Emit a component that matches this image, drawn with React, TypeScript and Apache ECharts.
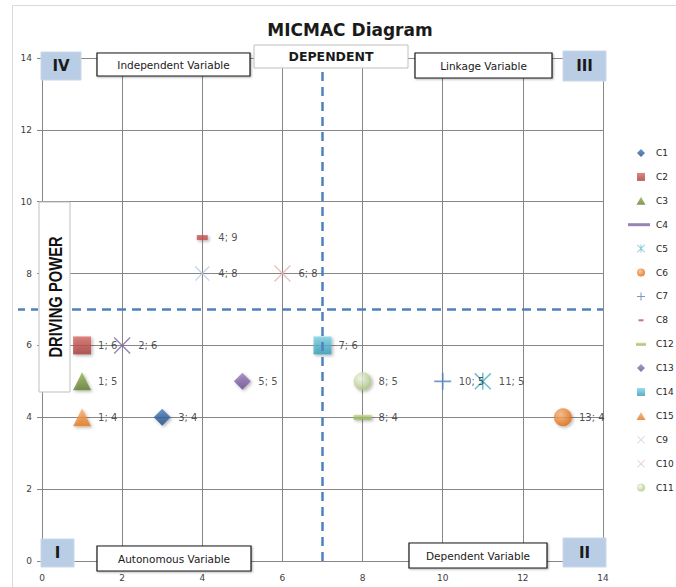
import React, { useEffect, useRef } from "react";
import * as echarts from "echarts";

// ---- data ----
const seriesNames = ["C1", "C2", "C3", "C4", "C5", "C6", "C7", "C8", "C12", "C13", "C14", "C15", "C9", "C10", "C11"];
const dependence = [3, 1, 1, 2, 11, 13, 10, 4, 8, 5, 7, 1, 4, 6, 8];
const drivingPower = [4, 6, 5, 6, 5, 4, 5, 9, 4, 5, 6, 4, 8, 8, 5];
const axisTicks = [0, 2, 4, 6, 8, 10, 12, 14];
const thresholdX = 7;
const thresholdY = 7;

// ---- symbols ----
const X_BODY = "M0,0.6L0.6,0L10,9.4L9.4,10ZM9.4,0L10,0.6L0.6,10L0,9.4Z";
const symX = "path://" + X_BODY;
const symAst = "path://" + X_BODY + "M4.55,0H5.45V10H4.55Z";
const symPlus = "path://M4.5,0H5.5V4.5H10V5.5H5.5V10H4.5V5.5H0V4.5H4.5Z";

// legend icons in a 26x9 box, centred at x=16
const pad = (b: string) => "path://M0,0M26,9" + b;
const lgDiamond = pad("M16,0.5L20,4.5L16,8.5L12,4.5Z");
const lgSquare = pad("M12,0.5H20V8.5H12Z");
const lgTriangle = pad("M16,0.5L20.5,8.5H11.5Z");
const lgBar = pad("M3,3H25V6H3Z");
const lgCircle = pad("M12,4.5A4,4 0 1 0 20,4.5A4,4 0 1 0 12,4.5Z");
const lgX = pad("M12,1L12.5,0.5L20,8L19.5,8.5ZM19.5,0.5L20,1L12.5,8.5L12,8Z");
const lgAst = pad("M12,1L12.5,0.5L20,8L19.5,8.5ZM19.5,0.5L20,1L12.5,8.5L12,8ZM15.6,0.5H16.4V8.5H15.6Z");
const lgPlus = pad("M15.5,0.5H16.5V4H20V5H16.5V8.5H15.5V5H12V4H15.5Z");
const lgDashS = pad("M13.5,3.5H18.5V5.5H13.5Z");
const lgDashL = pad("M11,3H21V6H11Z");

const lin = (a: string, b: string) => ({
  type: "linear", x: 0, y: 0, x2: 0, y2: 1,
  colorStops: [{ offset: 0, color: a }, { offset: 1, color: b }],
});
const rad = (a: string, b: string) => ({
  type: "radial", x: 0.38, y: 0.35, r: 0.7,
  colorStops: [{ offset: 0, color: a }, { offset: 1, color: b }],
});

type St = { symbol: string; size: number | number[]; color: any; icon: string; shadow?: boolean };
const styles: Record<string, St> = {
  C1: { symbol: "diamond", size: 17, color: lin("#4a7cbf", "#1f4a80"), icon: lgDiamond, shadow: true },
  C2: { symbol: "rect", size: 18, color: lin("#d66a66", "#a33a37"), icon: lgSquare, shadow: true },
  C3: { symbol: "triangle", size: 18, color: lin("#93b457", "#5f7a2c"), icon: lgTriangle, shadow: true },
  C4: { symbol: symX, size: 17, color: "#8064a2", icon: lgBar },
  C5: { symbol: symAst, size: 17, color: "#4bacc6", icon: lgAst },
  C6: { symbol: "circle", size: 18, color: rad("#fbb77c", "#d9650a"), icon: lgCircle, shadow: true },
  C7: { symbol: symPlus, size: 17, color: "#4f81bd", icon: lgPlus },
  C8: { symbol: "rect", size: [11, 5], color: "#c0504d", icon: lgDashS, shadow: true },
  C12: { symbol: "rect", size: [18, 5], color: lin("#c0d88a", "#8fae4c"), icon: lgDashL, shadow: true },
  C13: { symbol: "diamond", size: 17, color: lin("#9a7dbf", "#664a8a"), icon: lgDiamond, shadow: true },
  C14: { symbol: "rect", size: 18, color: lin("#7fd3e6", "#2f9bb5"), icon: lgSquare, shadow: true },
  C15: { symbol: "triangle", size: 18, color: lin("#fbae6c", "#e0751a"), icon: lgTriangle, shadow: true },
  C9: { symbol: symX, size: 15, color: "#b4c8e2", icon: lgX },
  C10: { symbol: symX, size: 17, color: "#e6b3b2", icon: lgX },
  C11: { symbol: "circle", size: 18, color: rad("#f4f8ec", "#a6c176"), icon: lgCircle, shadow: true },
};

const FONT = "DejaVu Sans";
const DASH_COLOR = "#4f81bd";

function labelBox(id: string, x: number, y: number, w: number, h: number, text: string, kind: string) {
  let rectStyle: any;
  let font: string;
  if (kind === "quad") {
    rectStyle = { fill: "#b9cde5", stroke: "#c9d8ea", lineWidth: 1 };
    font = `bold 15px ${FONT}`;
  } else if (kind === "black") {
    rectStyle = { fill: "#ffffff", stroke: "#1a1a1a", lineWidth: 1.2, shadowBlur: 2, shadowOffsetX: 1, shadowOffsetY: 1, shadowColor: "rgba(0,0,0,0.3)" };
    font = `10.5px ${FONT}`;
  } else {
    rectStyle = { fill: "#ffffff", stroke: "#bfbfbf", lineWidth: 1 };
    font = `bold 12.5px ${FONT}`;
  }
  return {
    id,
    type: "group",
    z: 100,
    children: [
      { type: "rect", shape: { x, y, width: w, height: h }, style: rectStyle, z: 100 },
      {
        type: "text", x: x + w / 2, y: y + h / 2, z: 101,
        style: { text, font, fill: "#1a1a1a", align: "center", verticalAlign: "middle" },
      },
    ],
  };
}

export default function App() {
  const ref = useRef<HTMLDivElement>(null);
  useEffect(() => {
    document.body.style.margin = "0";
    if (!ref.current) return;
    const chart = echarts.init(ref.current, undefined, { renderer: "svg" });

    const series: any[] = seriesNames.map((name, i) => {
      const st = styles[name];
      const w = Array.isArray(st.size) ? st.size[0] : st.size;
      const s: any = {
        name,
        type: "scatter",
        data: [[dependence[i], drivingPower[i]]],
        symbol: st.symbol,
        symbolSize: st.size,
        itemStyle: st.shadow
          ? { color: st.color, shadowBlur: 3, shadowOffsetX: 1.5, shadowOffsetY: 1.5, shadowColor: "rgba(0,0,0,0.35)" }
          : { color: st.color },
        label: {
          show: true,
          position: "right",
          distance: 16 - w / 2,
          formatter: (p: any) => `${p.value[0]}; ${p.value[1]}`,
          fontSize: 10,
          fontFamily: FONT,
          color: "#262626",
        },
        emphasis: { disabled: true },
      };
      if (i === 0) {
        s.markLine = {
          silent: true,
          symbol: "none",
          label: { show: false },
          lineStyle: { color: DASH_COLOR, width: 2.5, type: [9, 6] },
          emphasis: { disabled: true },
          data: [{ xAxis: thresholdX }, { yAxis: thresholdY }],
        };
      }
      return s;
    });

    const axisCommon = {
      type: "value",
      min: axisTicks[0],
      max: axisTicks[axisTicks.length - 1],
      interval: axisTicks[1] - axisTicks[0],
      axisLine: { show: true, lineStyle: { color: "#878787", width: 1 } },
      splitLine: { show: true, lineStyle: { color: "#878787", width: 1 } },
      axisLabel: { fontSize: 9, fontFamily: FONT, color: "#404040" },
    };

    const graphics: any[] = [
      { id: "frame", type: "rect", shape: { x: 12.5, y: 5.5, width: 700, height: 700 }, style: { fill: "none", stroke: "#d9d9d9", lineWidth: 1 }, z: 0 },
      labelBox("q4", 41, 52, 40, 28, "IV", "quad"),
      labelBox("indep", 97, 53, 153, 23, "Independent Variable", "black"),
      labelBox("dep", 254, 45, 154, 23, "DEPENDENT", "gray"),
      labelBox("link", 415, 53, 137, 25, "Linkage Variable", "black"),
      labelBox("q3", 563, 51, 43, 30, "III", "quad"),
      labelBox("q1", 41, 539, 33, 28, "I", "quad"),
      labelBox("auto", 97, 546, 154, 25, "Autonomous Variable", "black"),
      labelBox("depv", 409, 543, 138, 25, "Dependent Variable", "black"),
      labelBox("q2", 563, 538, 43, 29, "II", "quad"),
      {
        id: "driving",
        type: "group",
        z: 100,
        children: [
          { type: "rect", z: 100, shape: { x: 39, y: 202, width: 31, height: 190 }, style: { fill: "#ffffff", stroke: "#bfbfbf", lineWidth: 1 } },
          {
            type: "text", z: 101, x: 55, y: 297, rotation: Math.PI / 2, scaleX: 0.82,
            style: { text: "DRIVING POWER", font: `bold 18px "Liberation Sans"`, fill: "#111111", align: "center", verticalAlign: "middle" },
          },
        ],
      },
    ];

    chart.setOption({
      animation: false,
      title: {
        text: "MICMAC Diagram",
        left: 345,
        top: 16,
        textAlign: "center",
        textStyle: { fontFamily: FONT, fontWeight: "bold", fontSize: 17, color: "#1a1a1a" },
      },
      grid: { left: 42, right: 73, top: 58, bottom: 26, outerBoundsMode: "none" },
      xAxis: {
        ...axisCommon,
        axisTick: { show: false },
        axisLabel: { ...axisCommon.axisLabel, margin: 12 },
      },
      yAxis: {
        ...axisCommon,
        axisTick: { show: true, length: 5, lineStyle: { color: "#878787" } },
        axisLabel: { ...axisCommon.axisLabel, margin: 10 },
      },
      legend: {
        orient: "vertical",
        left: 625,
        top: 148,
        padding: 0,
        itemWidth: 26,
        itemHeight: 9,
        itemGap: 13.9,
        textStyle: { fontSize: 9, fontFamily: FONT, color: "#262626", lineHeight: 10 },
        data: seriesNames.map((n) => ({ name: n, icon: styles[n].icon })),
      },
      graphic: graphics,
      series,
    });

    // the horizontal threshold line runs a little past the y axis to the left
    const origin = chart.convertToPixel({ gridIndex: 0 }, [axisTicks[0], thresholdY]) as number[];
    if (origin && isFinite(origin[0]) && isFinite(origin[1])) {
      chart.setOption({
        graphic: [
          ...graphics,
          {
            id: "dashExt", type: "line", z: 5,
            shape: { x1: 18, y1: origin[1], x2: origin[0], y2: origin[1] },
            style: { stroke: DASH_COLOR, lineWidth: 2.5, lineDash: [7, 6] },
          },
        ],
      });
    }
    return () => chart.dispose();
  }, []);
  return <div ref={ref} style={{ width: 676, height: 587 }} />;
}
